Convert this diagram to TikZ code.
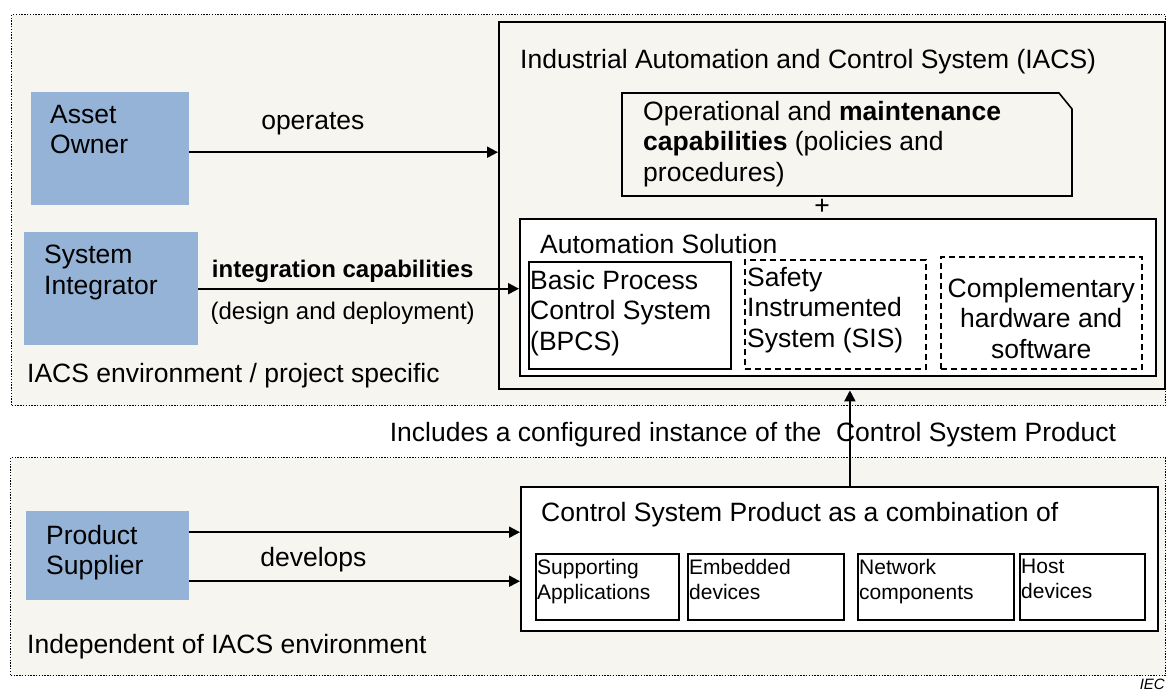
\documentclass[tikz,border=0pt]{standalone}
\usepackage{fontspec}
\setmainfont{Liberation Sans}
\usetikzlibrary{arrows.meta}
\definecolor{envfill}{RGB}{246,245,240}
\definecolor{actorblue}{RGB}{149,179,215}
\newcommand\mainsize{\fontsize{26.5}{30.5}\selectfont}
\newcommand\labelsize{\fontsize{24}{28}\selectfont}
\newcommand\smallsize{\fontsize{21}{25}\selectfont}
\tikzset{
  zone/.style={draw, line width=1.4pt, dash pattern=on 1.4pt off 1.4pt, fill=envfill, inner sep=0pt, anchor=north west},
  actor/.style={fill=actorblue, inner sep=0pt, anchor=north west},
  frame/.style={draw, line width=2.4pt, inner sep=0pt, anchor=north west},
  part/.style={draw, line width=1.8pt, fill=white, inner sep=0pt, anchor=north west},
  option/.style={part, line width=1.5pt, dash pattern=on 6pt off 4pt},
  item/.style={part, line width=1.6pt},
  txt/.style={inner sep=0pt, align=left, anchor=north west, font=\mainsize},
  small/.style={txt, font=\smallsize},
  flow/.style={-{Triangle[length=11pt,width=11pt]}, line width=2pt},
}
\begin{document}
\begin{tikzpicture}[x=1pt, y=-1pt]
    \useasboundingbox (0,0) rectangle (1166,691);
    % environments
    \node[zone, minimum width=1154pt, minimum height=391pt] (envzone) at (11,14) {};
    \node[zone, minimum width=1155pt, minimum height=218pt] (indzone) at (10,457) {};
    \node[inner sep=0pt, anchor=base west, font=\mainsize] (envlabel) at ([shift={(16pt,24pt)}]envzone.south west) {IACS environment / project specific};
    \node[inner sep=0pt, anchor=base west, font=\mainsize] (indlabel) at ([shift={(17pt,23pt)}]indzone.south west) {Independent of IACS environment};

    % roles
    \node[actor, minimum width=158pt, minimum height=113pt] (owner) at (31,92) {};
    \node[actor, minimum width=174pt, minimum height=113pt] (integrator) at (24,232) {};
    \node[actor, minimum width=163pt, minimum height=89pt] (supplier) at (26,511) {};
    \node[txt] (ownertext) at ([shift={(19pt,-13pt)}]owner.north west) {Asset\\Owner};
    \node[txt] (integratortext) at ([shift={(20pt,-13pt)}]integrator.north west) {System\\Integrator};
    \node[txt] (suppliertext) at ([shift={(20pt,-14pt)}]supplier.north west) {Product\\Supplier};

    % IACS
    \node[frame, minimum width=666pt, minimum height=367pt] (iacs) at (498,21) {};
    \node[inner sep=0pt, anchor=base west, font=\mainsize] (iacstitle) at ([shift={(22pt,-47pt)}]iacs.north west) {Industrial Automation and Control System (IACS)};
    \coordinate (ops) at (622,93);
    \draw[line width=1.6pt, fill=envfill] (ops) -- (1059,93) -- (1072,109) -- (1072,196) -- (622,196) -- cycle;
    \node[txt] (opstext) at ([shift={(21pt,-8pt)}]ops) {Operational and \textbf{maintenance}\\\textbf{capabilities} (policies and\\procedures)};
    \node[inner sep=0pt, font=\mainsize] (plus) at (822,207) {+};
    \node[part, minimum width=636pt, minimum height=157pt] (solution) at (519,218) {};
    \node[inner sep=0pt, anchor=base west, font=\mainsize] (solutiontitle) at ([shift={(21pt,-35pt)}]solution.north west) {Automation Solution};
    \node[part, minimum width=202pt, minimum height=107pt] (bpcs) at (528,261) {};
    \node[option, minimum width=181pt, minimum height=109pt] (sis) at (744,259) {};
    \node[option, minimum width=201pt, minimum height=112pt] (extra) at (940,256) {};
    \node[txt] (bpcstext) at ([shift={(2pt,-9pt)}]bpcs.north west) {Basic Process\\Control System\\(BPCS)};
    \node[txt] (sistext) at ([shift={(3pt,-8pt)}]sis.north west) {Safety\\Instrumented\\System (SIS)};
    \node[txt, align=center, anchor=north] (extratext) at ([yshift=-22pt]extra.north) {Complementary\\hardware and\\software};

    % product
    \node[part, minimum width=637pt, minimum height=144pt] (product) at (520,486) {};
    \node[inner sep=0pt, anchor=base west, font=\mainsize] (producttitle) at ([shift={(21pt,-35pt)}]product.north west) {Control System Product as a combination of};
    \node[item, minimum width=143pt, minimum height=66pt] (apps) at (535,553) {};
    \node[item, minimum width=156pt, minimum height=66pt] (embedded) at (687,553) {};
    \node[item, minimum width=156pt, minimum height=66pt] (network) at (857,553) {};
    \node[item, minimum width=125pt, minimum height=66pt] (host) at (1019,553) {};
    \node[small] (appstext) at ([shift={(2pt,-6pt)}]apps.north west) {Supporting\\Applications};
    \node[small] (embeddedtext) at ([shift={(2pt,-6pt)}]embedded.north west) {Embedded\\devices};
    \node[small] (networktext) at ([shift={(2pt,-6pt)}]network.north west) {Network\\components};
    \node[small] (hosttext) at ([shift={(2pt,-6pt)}]host.north west) {Host\\devices};

    % arrows
    \coordinate (op) at ([yshift=-3.5pt]owner.east);
    \draw[flow] (op) -- node[pos=0.4, above=16pt, inner sep=0pt, font=\mainsize] {operates} (op -| iacs.west);
    \draw[flow] (integrator.east) -- node[pos=0.45, above=5pt, inner sep=0pt, font=\labelsize\bfseries] {integration capabilities}
        node[pos=0.45, below=12pt, inner sep=0pt, font=\labelsize] {(design and deployment)} (integrator.east -| solution.west);
    \coordinate (dev1) at ([yshift=23.5pt]supplier.east);
    \coordinate (dev2) at ([yshift=-25.5pt]supplier.east);
    \draw[flow] (dev1) -- node[pos=0.375, below=14pt, inner sep=0pt, font=\mainsize] {develops} (dev1 -| product.west);
    \draw[flow] (dev2) -- (dev2 -| product.west);
    \coordinate (up) at ([xshift=10.5pt]product.north);
    \draw[flow] (up) -- node[pos=0.54, xshift=-97pt, inner sep=0pt, font=\mainsize] {Includes a configured instance of the\ \ Control System Product} (up |- iacs.south);

    \node[inner sep=0pt, anchor=north east, font=\fontsize{15}{18}\selectfont\itshape] (iec) at (1165,679) {IEC};
\end{tikzpicture}
\end{document}
